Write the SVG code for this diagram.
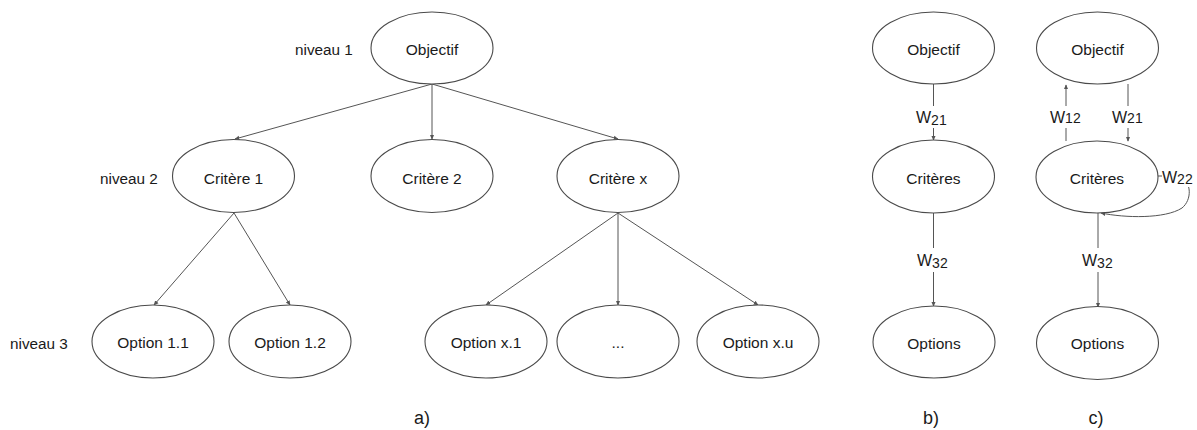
<svg xmlns="http://www.w3.org/2000/svg" width="1197" height="430" viewBox="0 0 1197 430">
<style>
  .n ellipse { fill: #fff; stroke: #4a4a4a; stroke-width: 1.1; }
  text { font-family: "Liberation Sans", Arial, sans-serif; fill: #1a1a1a; }
  .t { font-size: 15.5px; text-anchor: middle; }
  .lv { font-size: 15.3px; }
  .cap { font-size: 18px; text-anchor: middle; }
  .c line, .c path { stroke: #555; stroke-width: 1; fill: none; marker-end: url(#ah); }
  .w { font-size: 16px; }
  .w tspan.s { font-size: 14px; }
  .bg { fill: #fff; }
</style>
<defs>
  <marker id="ah" viewBox="0 0 8 8" refX="7" refY="4" markerWidth="5" markerHeight="5" orient="auto" markerUnits="userSpaceOnUse">
    <path d="M0,0.5 L8,4 L0,7.5 Z" fill="#555"/>
  </marker>
</defs>
<rect width="1197" height="430" fill="#fff"/>

<g id="connectors" class="c">
  <line x1="432" y1="84" x2="235" y2="139"/>
  <line x1="432" y1="84" x2="432" y2="139"/>
  <line x1="432" y1="84" x2="618" y2="139"/>
  <line x1="234" y1="213" x2="154" y2="305"/>
  <line x1="234" y1="213" x2="290" y2="305"/>
  <line x1="618" y1="213" x2="486" y2="305"/>
  <line x1="618" y1="213" x2="618" y2="305"/>
  <line x1="618" y1="213" x2="758" y2="305"/>
  <line x1="933.5" y1="84" x2="933.5" y2="140"/>
  <line x1="933.5" y1="213" x2="933.5" y2="306"/>
  <line x1="1066" y1="141" x2="1066" y2="85"/>
  <line x1="1128" y1="84" x2="1128" y2="141"/>
  <line x1="1098" y1="213" x2="1098" y2="307"/>
  <path d="M1158,176 H1180 C1192,182 1192,200 1182,208 C1165,219 1125,218 1101,213"/>
</g>

<g id="edge-labels">
  <rect class="bg" x="915" y="106" width="36" height="22"/>
  <text class="w" x="916" y="123">W<tspan class="s" dy="2">21</tspan></text>
  <rect class="bg" x="915" y="248" width="36" height="24"/>
  <text class="w" x="917" y="266">W<tspan class="s" dy="2">32</tspan></text>
  <rect class="bg" x="1049" y="106" width="34" height="22"/>
  <text class="w" x="1050" y="123">W<tspan class="s" dy="0">12</tspan></text>
  <rect class="bg" x="1111" y="106" width="34" height="22"/>
  <text class="w" x="1112" y="123">W<tspan class="s" dy="0">21</tspan></text>
  <rect class="bg" x="1081" y="248" width="34" height="24"/>
  <text class="w" x="1082" y="266">W<tspan class="s" dy="2">32</tspan></text>
  <rect class="bg" x="1162" y="166" width="35" height="21"/>
  <text class="w" x="1162" y="183">W<tspan class="s" dy="1">22</tspan></text>
</g>

<g id="levels">
  <text class="lv" x="295" y="55">niveau 1</text>
  <text class="lv" x="100" y="184">niveau 2</text>
  <text class="lv" x="10" y="349">niveau 3</text>
</g>

<g id="objectif-a" class="n"><ellipse cx="432" cy="48" rx="61" ry="36"/><text class="t" x="432" y="55">Objectif</text></g>
<g id="critere-1" class="n"><ellipse cx="233.5" cy="176" rx="61" ry="36.5"/><text class="t" x="233.5" y="184">Critère 1</text></g>
<g id="critere-2" class="n"><ellipse cx="432" cy="176" rx="61" ry="36.5"/><text class="t" x="432" y="184">Critère 2</text></g>
<g id="critere-x" class="n"><ellipse cx="618" cy="176" rx="61" ry="36.5"/><text class="t" x="618" y="184">Critère x</text></g>
<g id="option-1-1" class="n"><ellipse cx="153" cy="341.5" rx="61" ry="36.5"/><text class="t" x="153" y="348">Option 1.1</text></g>
<g id="option-1-2" class="n"><ellipse cx="290" cy="341.5" rx="61" ry="36.5"/><text class="t" x="290" y="348">Option 1.2</text></g>
<g id="option-x-1" class="n"><ellipse cx="486" cy="341.5" rx="61" ry="36.5"/><text class="t" x="486" y="348">Option x.1</text></g>
<g id="option-dots" class="n"><ellipse cx="618" cy="341.5" rx="61" ry="36.5"/><text class="t" x="618" y="348">...</text></g>
<g id="option-x-u" class="n"><ellipse cx="758" cy="341.5" rx="61" ry="36.5"/><text class="t" x="758" y="348">Option x.u</text></g>

<g id="objectif-b" class="n"><ellipse cx="933.5" cy="48" rx="61" ry="36"/><text class="t" x="933.5" y="55">Objectif</text></g>
<g id="criteres-b" class="n"><ellipse cx="933.5" cy="176.5" rx="61" ry="36.5"/><text class="t" x="933.5" y="184">Critères</text></g>
<g id="options-b" class="n"><ellipse cx="934" cy="342" rx="61" ry="36"/><text class="t" x="934" y="349">Options</text></g>

<g id="objectif-c" class="n"><ellipse cx="1097.5" cy="48" rx="61" ry="36"/><text class="t" x="1097.5" y="55">Objectif</text></g>
<g id="criteres-c" class="n"><ellipse cx="1097" cy="177" rx="61" ry="36"/><text class="t" x="1097" y="184">Critères</text></g>
<g id="options-c" class="n"><ellipse cx="1097.5" cy="343" rx="61" ry="36.5"/><text class="t" x="1097.5" y="349">Options</text></g>

<g id="captions">
  <text class="cap" x="422" y="424">a)</text>
  <text class="cap" x="931" y="424">b)</text>
  <text class="cap" x="1096" y="424">c)</text>
</g>
</svg>
